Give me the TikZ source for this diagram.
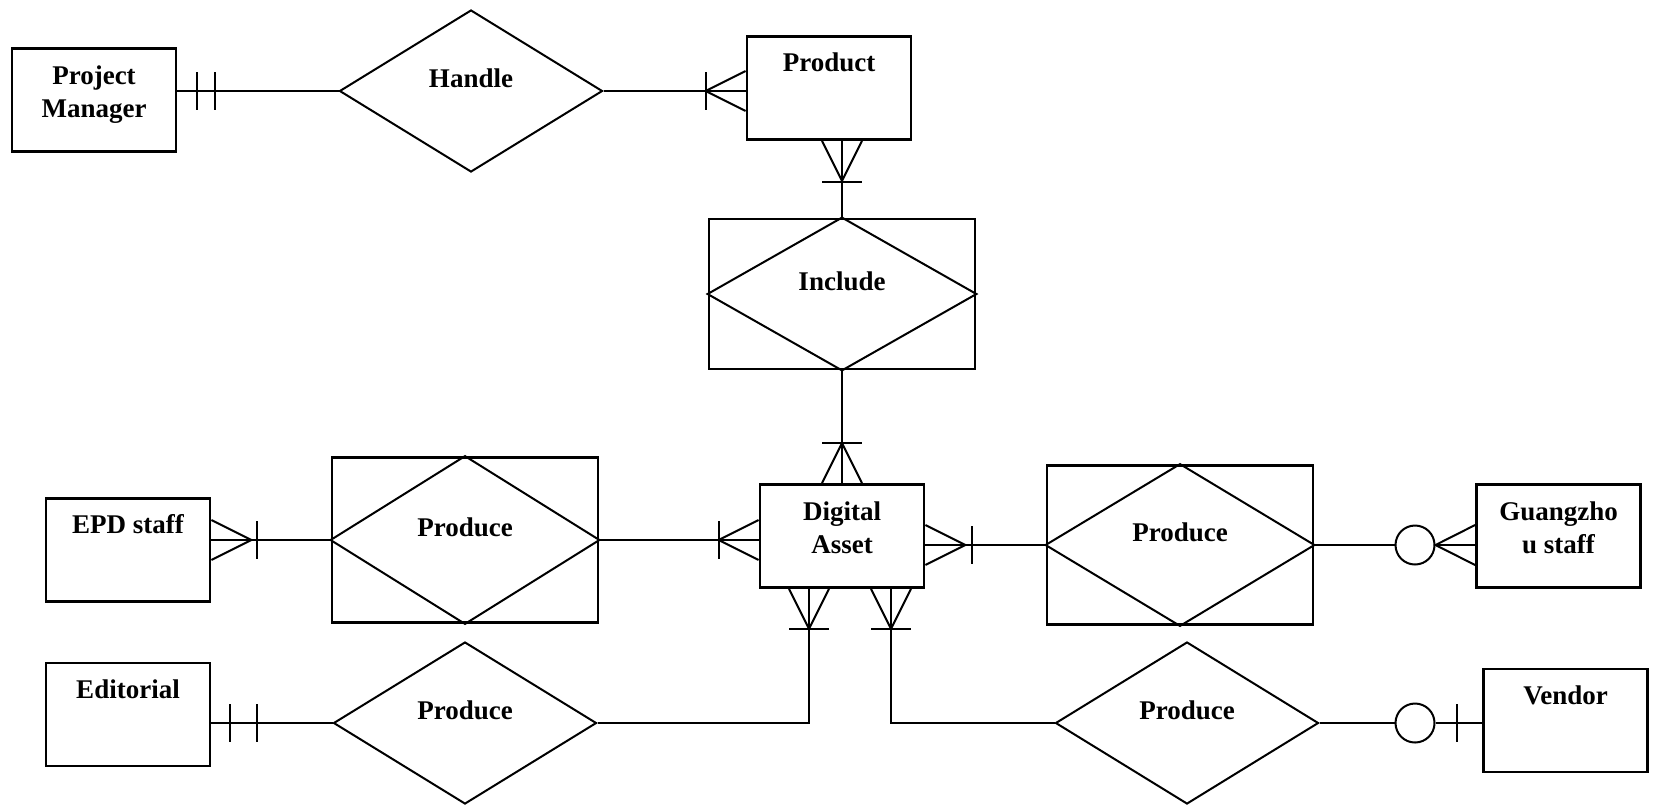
\documentclass[tikz,border=0pt]{standalone}
\usepackage{fontspec}
\setmainfont{Liberation Serif}
\usetikzlibrary{shapes.geometric, calc}

\begin{document}
\begin{tikzpicture}[x=0.5pt, y=-0.5pt, line width=1pt,
	every node/.style={font=\fontsize{13.5}{16.5}\selectfont\bfseries, inner sep=0pt},
	entity/.style={draw, line width=1.4pt, rectangle, minimum width=82pt, minimum height=51.5pt, text height=9pt, text depth=25.5pt},
	entitytwo/.style={entity, align=center, text height=20pt, text depth=3pt},
	relation/.style={draw, diamond, minimum width=131.5pt, minimum height=81pt, text height=9pt, text depth=13pt},
	weakrel/.style={draw, line width=1.4pt, rectangle, minimum width=133pt, text height=9pt, text depth=13pt},
	optional/.style={draw, circle, minimum size=19.5pt}]
				\useasboundingbox (0,0) rectangle (1653,805);

				% Nodes
				\node[entitytwo] (pm) at (94,100) {Project\\Manager};
				\node[relation] (handle) at (471,91) {Handle};
				\node[entity] (product) at (829,88) {Product};
				\node[weakrel, minimum height=75pt] (include) at (842,294) {Include};
				\node[entitytwo] (asset) at (842,536) {Digital\\Asset};
				\node[entity] (epd) at (128,550) {EPD staff};
				\node[weakrel, minimum height=82.5pt] (produceEPD) at (465,540) {Produce};
				\node[weakrel, minimum height=79.5pt] (produceGZ) at (1180,545) {Produce};
				\node[optional] (gzzero) at (1415,545) {};
				\node[entitytwo] (gz) at (1558.5,536) {Guangzho\\u staff};
				\node[entity] (editorial) at (128,714.5) {Editorial};
				\node[relation] (produceEd) at (465,723) {Produce};
				\node[relation] (produceVd) at (1187,723) {Produce};
				\node[optional] (vdzero) at (1415,723) {};
				\node[entity] (vendor) at (1565.5,720.5) {Vendor};

				% Diamonds inside the weak relations
				\draw (include.north) -- (include.east) -- (include.south) -- (include.west) -- cycle;
				\draw (produceEPD.north) -- (produceEPD.east) -- (produceEPD.south) -- (produceEPD.west) -- cycle;
				\draw (produceGZ.north) -- (produceGZ.east) -- (produceGZ.south) -- (produceGZ.west) -- cycle;

				% Edges
				\coordinate (pmend) at (pm.east |- handle.west);
				\draw (pmend) -- (handle.west);
				\draw ($(pmend)+(20,-19)$) -- ++(0,38);
				\draw ($(pmend)+(38,-19)$) -- ++(0,38);

				\coordinate (productend) at (handle.east -| product.west);
				\draw (handle.east) -- (productend);
				\draw ($(productend)+(0,-20)$) -- ++(-40,20) -- ++(40,20);
				\draw ($(productend)+(-40,-19)$) -- ++(0,38);

				\coordinate (productbot) at (include.north |- product.south);
				\draw (productbot) -- (include.north);
				\draw ($(productbot)+(-20,0)$) -- ++(20,40) -- ++(20,-40);
				\draw ($(productbot)+(-20,41)$) -- ++(40,0);

				\coordinate (assettop) at (include.south |- asset.north);
				\draw (include.south) -- (assettop);
				\draw ($(assettop)+(-20,0)$) -- ++(20,-40) -- ++(20,40);
				\draw ($(assettop)+(-20,-40)$) -- ++(40,0);

				\coordinate (epdend) at (epd.east |- produceEPD.west);
				\draw (epdend) -- (produceEPD.west);
				\draw ($(epdend)+(0,-20)$) -- ++(40,20) -- ++(-40,20);
				\draw ($(epdend)+(46,-19)$) -- ++(0,38);

				\coordinate (assetleft) at (produceEPD.east -| asset.west);
				\draw (produceEPD.east) -- (assetleft);
				\draw ($(assetleft)+(0,-20)$) -- ++(-40,20) -- ++(40,20);
				\draw ($(assetleft)+(-40,-19)$) -- ++(0,38);

				\coordinate (assetright) at (asset.east |- produceGZ.west);
				\draw (assetright) -- (produceGZ.west);
				\draw ($(assetright)+(0,-20)$) -- ++(40,20) -- ++(-40,20);
				\draw ($(assetright)+(47,-19)$) -- ++(0,38);

				\coordinate (gzend) at (gzzero.east -| gz.west);
				\draw (produceGZ.east) -- (gzzero.west);
				\draw (gzzero.east) -- (gzend);
				\draw ($(gzend)+(0,-20)$) -- (gzzero.east) -- ($(gzend)+(0,20)$);

				\coordinate (edend) at (editorial.east |- produceEd.west);
				\draw (edend) -- (produceEd.west);
				\draw ($(edend)+(19,-19)$) -- ++(0,38);
				\draw ($(edend)+(46,-19)$) -- ++(0,38);

				\coordinate (assetsw) at ($(asset.south)+(-33,0)$);
				\draw (produceEd.east) -| (assetsw);
				\draw ($(assetsw)+(-20,0)$) -- ++(20,40) -- ++(20,-40);
				\draw ($(assetsw)+(-20,40)$) -- ++(40,0);

				\coordinate (assetse) at ($(asset.south)+(49,0)$);
				\draw (assetse) |- (produceVd.west);
				\draw ($(assetse)+(-20,0)$) -- ++(20,40) -- ++(20,-40);
				\draw ($(assetse)+(-20,40)$) -- ++(40,0);

				\coordinate (vdend) at (vdzero.east -| vendor.west);
				\draw (produceVd.east) -- (vdzero.west);
				\draw (vdzero.east) -- (vdend);
				\draw ($(vdzero.east)+(21,-19)$) -- ++(0,38);
			\end{tikzpicture}
\end{document}
